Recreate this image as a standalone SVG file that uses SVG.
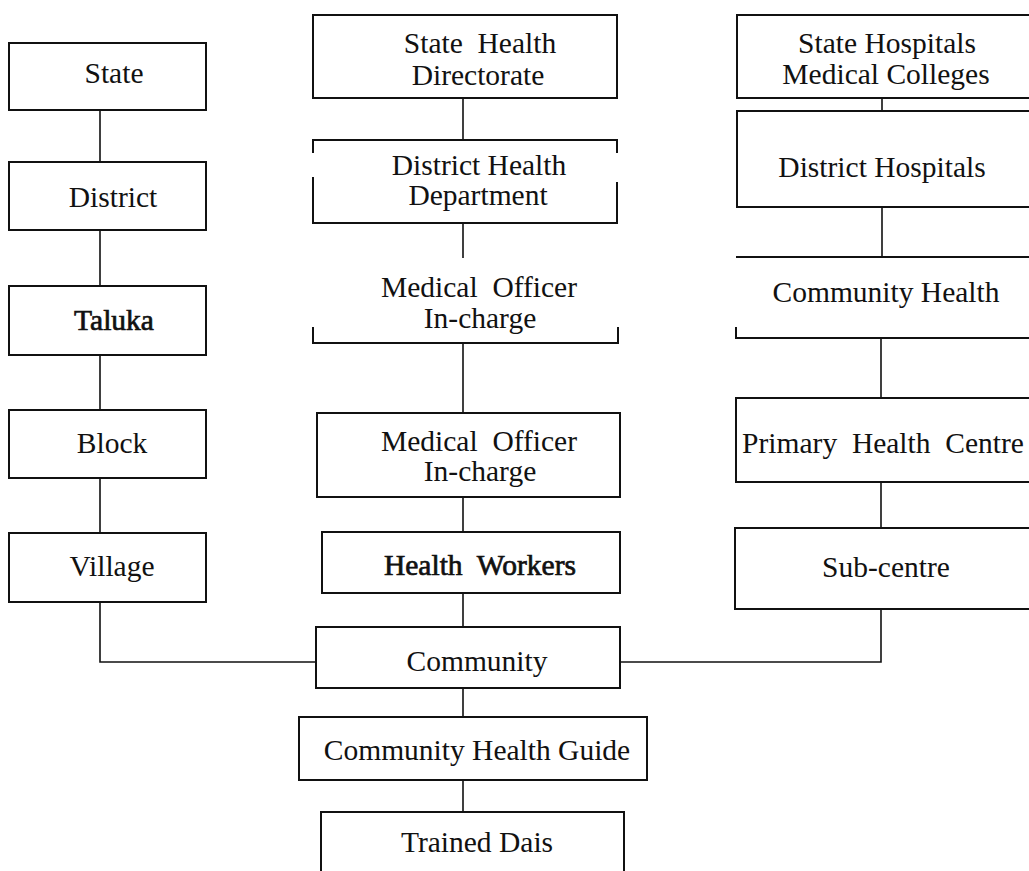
<svg xmlns="http://www.w3.org/2000/svg" width="1029" height="871" viewBox="0 0 1029 871">
<style>
.box{fill:none;stroke:#111;stroke-width:2}
.ln{fill:none;stroke:#111;stroke-width:1.6}
text{font-family:"Liberation Serif","Times New Roman",serif;font-size:29.5px;fill:#111;text-anchor:middle;white-space:pre}
.b{stroke:#111;stroke-width:0.7}
</style>
<rect width="1029" height="871" fill="#fff"/>
<g id="connectors">
<path class="ln" d="M100 110V162M100 230V286M100 355V410M100 478V533M100 602V662H316"/>
<path class="ln" d="M463 98V140M463 223V258M463 343V413M463 497V532M463 593V627M463 688V717M463 780V812"/>
<path class="ln" d="M882 98V111M882 207V257M881 338V398M881 482V528M881 609V662H620"/>
</g>
<g id="state"><rect class="box" x="9" y="43" width="197" height="67"/><text x="114" y="83">State</text></g>
<g id="district"><rect class="box" x="9" y="162" width="197" height="68"/><text x="113" y="207">District</text></g>
<g id="taluka"><rect class="box" x="9" y="286" width="197" height="69"/><text class="b" x="114" y="330">Taluka</text></g>
<g id="block"><rect class="box" x="9" y="410" width="197" height="68"/><text x="112" y="453">Block</text></g>
<g id="village"><rect class="box" x="9" y="533" width="197" height="69"/><text x="112" y="576">Village</text></g>

<g id="shd"><rect class="box" x="313" y="15" width="304" height="83"/><text x="480" y="53" xml:space="preserve">State  Health</text><text x="478" y="85">Directorate</text></g>
<g id="dhd"><path class="box" d="M313 153V140H617V153M313 177V223H617V182"/><text x="479" y="175">District Health</text><text x="478" y="205">Department</text></g>
<g id="mo1"><path class="box" d="M313 327V343H618V327"/><text x="479" y="297" xml:space="preserve">Medical  Officer</text><text x="480" y="328">In-charge</text></g>
<g id="mo2"><rect class="box" x="317" y="413" width="303" height="84"/><text x="479" y="451" xml:space="preserve">Medical  Officer</text><text x="480" y="481">In-charge</text></g>
<g id="hw"><rect class="box" x="322" y="532" width="298" height="61"/><text class="b" x="480" y="575" xml:space="preserve">Health  Workers</text></g>
<g id="community"><rect class="box" x="316" y="627" width="304" height="61"/><text x="477" y="671">Community</text></g>
<g id="chg"><rect class="box" x="299" y="717" width="348" height="63"/><text x="477" y="760">Community Health Guide</text></g>
<g id="td"><path class="box" d="M321 875V812H624V875"/><text x="477" y="852">Trained Dais</text></g>

<g id="shmc"><path class="box" d="M1035 15H737V98H1035"/><text x="887" y="53">State Hospitals</text><text x="886" y="84">Medical Colleges</text></g>
<g id="dh"><path class="box" d="M1035 111H737V207H1035"/><text x="882" y="177">District Hospitals</text></g>
<g id="chc"><path class="box" d="M1035 257H736M736 327V338H1035"/><text x="886" y="302">Community Health</text></g>
<g id="phc"><path class="box" d="M1035 398H736V482H1035"/><text x="883" y="453" xml:space="preserve">Primary  Health  Centre</text></g>
<g id="sc"><path class="box" d="M1035 528H735V609H1035"/><text x="886" y="577">Sub-centre</text></g>
</svg>
